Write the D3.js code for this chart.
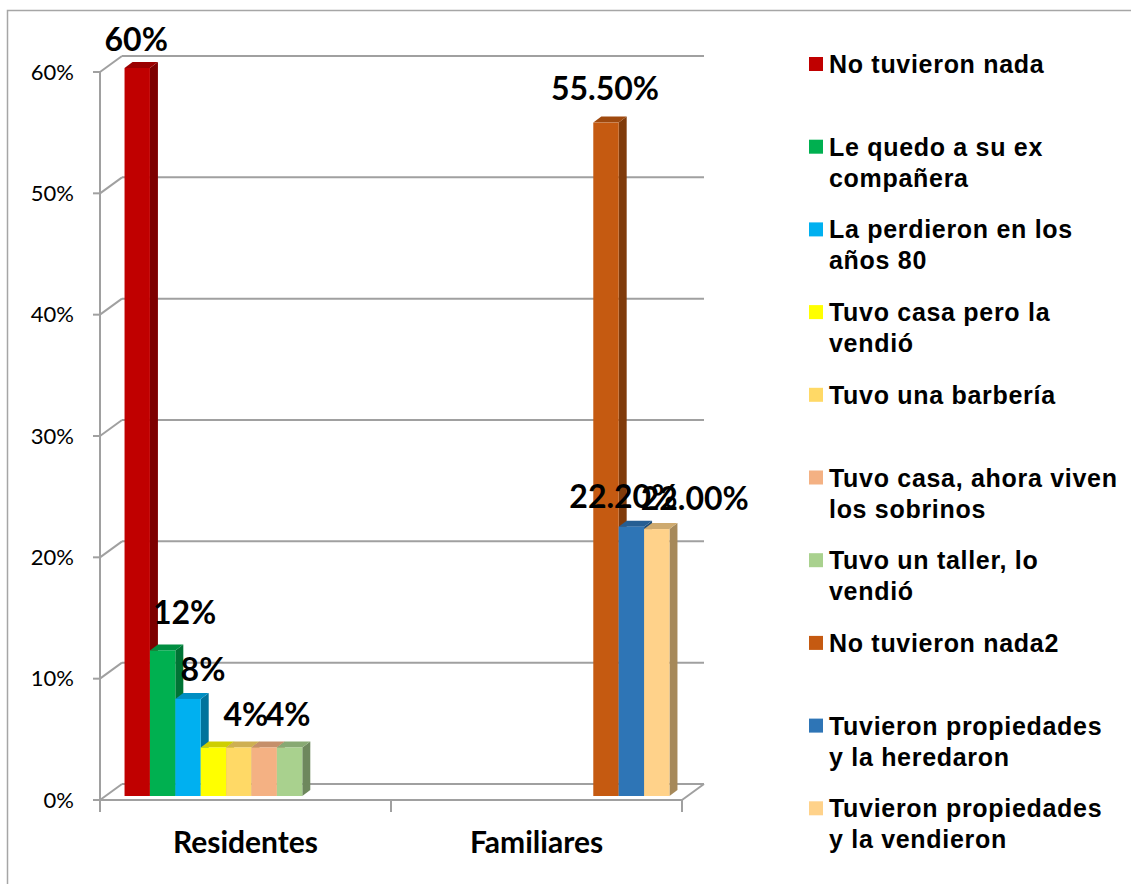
<!DOCTYPE html>
<html>
<head>
<meta charset="utf-8">
<script src="https://cdn.jsdelivr.net/npm/d3@7"></script>
<style>
  html, body { margin: 0; padding: 0; background: #fff; }
  svg { display: block; }
</style>
</head>
<body>
<svg id="chart" width="1131" height="884"></svg>
<script>
/* columnas 3D agrupadas — Residentes vs Familiares (svg a mano con d3) */
var CATEGORIES = ['Residentes', 'Familiares'];
var SERIES = [
  'No tuvieron nada',
  'Le quedo a su ex compañera',
  'La perdieron en los años 80',
  'Tuvo casa pero la vendió',
  'Tuvo una barbería',
  'Tuvo casa, ahora viven los sobrinos',
  'Tuvo un taller, lo vendió',
  'No tuvieron nada2',
  'Tuvieron propiedades y la heredaron',
  'Tuvieron propiedades y la vendieron'
];
// valor por serie: [Residentes, Familiares]
var VALUES = [
  [0.60, null],
  [0.12, null],
  [0.08, null],
  [0.04, null],
  [0.04, null],
  [0.04, null],
  [0.04, null],
  [null, 0.555],
  [null, 0.222],
  [null, 0.220]
];
var Y_TICKS = [0, 0.1, 0.2, 0.3, 0.4, 0.5, 0.6];
var LABEL_FORMATS = ['.0%', '.2%'];   // por categoría

(function () {
  var COLORS = ['#C00000', '#00B050', '#00B0F0', '#FFFF00', '#FFD966', '#F4B183', '#A9D18E', '#C55A11', '#2E75B6', '#FFD28A'];
  // saltos de línea de la leyenda (tal como el original)
  var LEGEND_LINES = [
    ['No tuvieron nada'], ['Le quedo a su ex', 'compañera'], ['La perdieron en los', 'años 80'],
    ['Tuvo casa pero la', 'vendió'], ['Tuvo una barbería'], ['Tuvo casa, ahora viven', 'los sobrinos'],
    ['Tuvo un taller, lo', 'vendió'], ['No tuvieron nada2'], ['Tuvieron propiedades', 'y la heredaron'],
    ['Tuvieron propiedades', 'y la vendieron']
  ];
  // etiquetas visibles (Excel oculta las que se pisan) y su corrimiento [dx, dy] desde el centro/tope
  var LABEL_NUDGE = [[-1, -17], [22, -26], [15, -18], null, [7, -21], [24, -21], null, [-1, -23], [-8, -19], [38, -19]];

  var svg = d3.select('#chart');
  var GRID = '#a0a0a0';
  var WALL = { dx: 22, dy: -16 };   // profundidad de la pared del fondo
  var BAR_OFF = { dx: 6, dy: -4 };  // las columnas están a media profundidad
  var DEPTH = { dx: 8, dy: -6 };    // grosor 3D de cada columna

  var x0 = d3.scaleBand().domain(CATEGORIES).range([100, 682]);
  var x1 = d3.scaleBand().domain(d3.range(SERIES.length)).range([0, x0.bandwidth()]).paddingOuter(0.73);
  var y = d3.scaleLinear().domain([0, 0.6]).range([800, 72]);

  // marco exterior
  svg.append('rect').attr('x', 7.5).attr('y', 10.5).attr('width', 1200).attr('height', 1000)
    .attr('fill', 'none').attr('stroke', '#a6a6a6').attr('stroke-width', 1.5);

  var gWall = svg.append('g').attr('stroke', GRID).attr('stroke-width', 2).attr('fill', 'none');
  // líneas de la pared del fondo + diagonales de la pared lateral
  Y_TICKS.forEach(function (t) {
    var yy = y(t);
    gWall.append('line').attr('x1', x0.range()[0] + WALL.dx).attr('x2', x0.range()[1] + WALL.dx)
      .attr('y1', yy + WALL.dy).attr('y2', yy + WALL.dy);
    gWall.append('line').attr('x1', x0.range()[0]).attr('y1', yy)
      .attr('x2', x0.range()[0] + WALL.dx).attr('y2', yy + WALL.dy);
    gWall.append('line').attr('x1', x0.range()[0] - 7).attr('x2', x0.range()[0]).attr('y1', yy).attr('y2', yy);
  });
  // eje vertical, borde delantero del piso, esquina derecha
  gWall.append('line').attr('x1', 100).attr('x2', 100).attr('y1', y(0.6)).attr('y2', y(0));
  gWall.append('line').attr('x1', x0.range()[0]).attr('x2', x0.range()[1]).attr('y1', y(0)).attr('y2', y(0));
  gWall.append('line').attr('x1', x0.range()[1]).attr('y1', y(0))
    .attr('x2', x0.range()[1] + WALL.dx).attr('y2', y(0) + WALL.dy);
  // marcas de categoría
  var catEdges = CATEGORIES.map(function (c) { return x0(c); }).concat([x0.range()[1]]);
  catEdges.forEach(function (xx) {
    gWall.append('line').attr('x1', xx).attr('x2', xx).attr('y1', y(0)).attr('y2', y(0) + 12);
  });

  // etiquetas del eje Y
  svg.append('g').selectAll('text').data(Y_TICKS).enter().append('text')
    .attr('x', 74).attr('y', function (d) { return y(d); }).attr('dy', '0.35em')
    .attr('text-anchor', 'end').attr('font-family', 'Lato, sans-serif').attr('font-size', 22).attr('fill', '#000')
    .text(d3.format('.0%'));

  // etiquetas de categoría
  svg.append('g').selectAll('text').data(CATEGORIES).enter().append('text')
    .attr('x', function (d) { return x0(d) + x0.bandwidth() / 2; }).attr('y', 853)
    .attr('text-anchor', 'middle').attr('font-family', 'Lato, sans-serif').attr('font-weight', 700)
    .attr('font-size', 30).attr('fill', '#000').text(function (d) { return d; });

  // columnas
  var bars = [];
  CATEGORIES.forEach(function (c, ci) {
    SERIES.forEach(function (s, si) {
      var v = VALUES[si][ci];
      if (v == null) return;
      bars.push({ cat: c, ci: ci, si: si, v: v });
    });
  });
  var gBars = svg.append('g');
  bars.forEach(function (b) {
    var xa = x0(b.cat) + x1(b.si) + BAR_OFF.dx, xb = xa + x1.bandwidth();
    var yb = y(0) + BAR_OFF.dy, yt = y(b.v) + BAR_OFF.dy;
    var col = d3.rgb(COLORS[b.si]);
    var g = gBars.append('g');
    g.append('polygon').attr('fill', col.darker(1.2))
      .attr('points', [[xb, yt], [xb + DEPTH.dx, yt + DEPTH.dy], [xb + DEPTH.dx, yb + DEPTH.dy], [xb, yb]].join(' '));
    g.append('polygon').attr('fill', col.darker(0.6))
      .attr('points', [[xa, yt], [xa + DEPTH.dx, yt + DEPTH.dy], [xb + DEPTH.dx, yt + DEPTH.dy], [xb, yt]].join(' '));
    g.append('rect').attr('x', xa).attr('y', yt).attr('width', xb - xa).attr('height', yb - yt).attr('fill', col);
    b.cx = (xa + xb) / 2; b.top = yt;
  });

  // etiquetas de datos
  svg.append('g').selectAll('text').data(bars.filter(function (b) { return LABEL_NUDGE[b.si]; })).enter().append('text')
    .attr('x', function (b) { return b.cx + LABEL_NUDGE[b.si][0]; })
    .attr('y', function (b) { return b.top + LABEL_NUDGE[b.si][1]; })
    .attr('text-anchor', 'middle').attr('font-family', 'Lato, sans-serif').attr('font-weight', 700)
    .attr('font-size', 32).attr('fill', '#000')
    .text(function (b) { return d3.format(LABEL_FORMATS[b.ci])(b.v); });

  // leyenda
  var LEG_X = 809, LEG_Y = 64, LEG_STEP = 82.7, LINE_H = 31;
  var gLeg = svg.append('g');
  SERIES.forEach(function (s, i) {
    var cy = LEG_Y + i * LEG_STEP;
    gLeg.append('rect').attr('x', LEG_X).attr('y', cy - 7).attr('width', 14).attr('height', 14).attr('fill', COLORS[i]);
    var t = gLeg.append('text').attr('font-family', '"Liberation Sans", Arial, sans-serif').attr('font-weight', 700)
      .attr('font-size', 25).attr('letter-spacing', 0.7).attr('fill', '#000');
    LEGEND_LINES[i].forEach(function (ln, k) {
      t.append('tspan').attr('x', LEG_X + 20).attr('y', cy + 9 + k * LINE_H).text(ln);
    });
  });
})();
</script>
</body>
</html>
